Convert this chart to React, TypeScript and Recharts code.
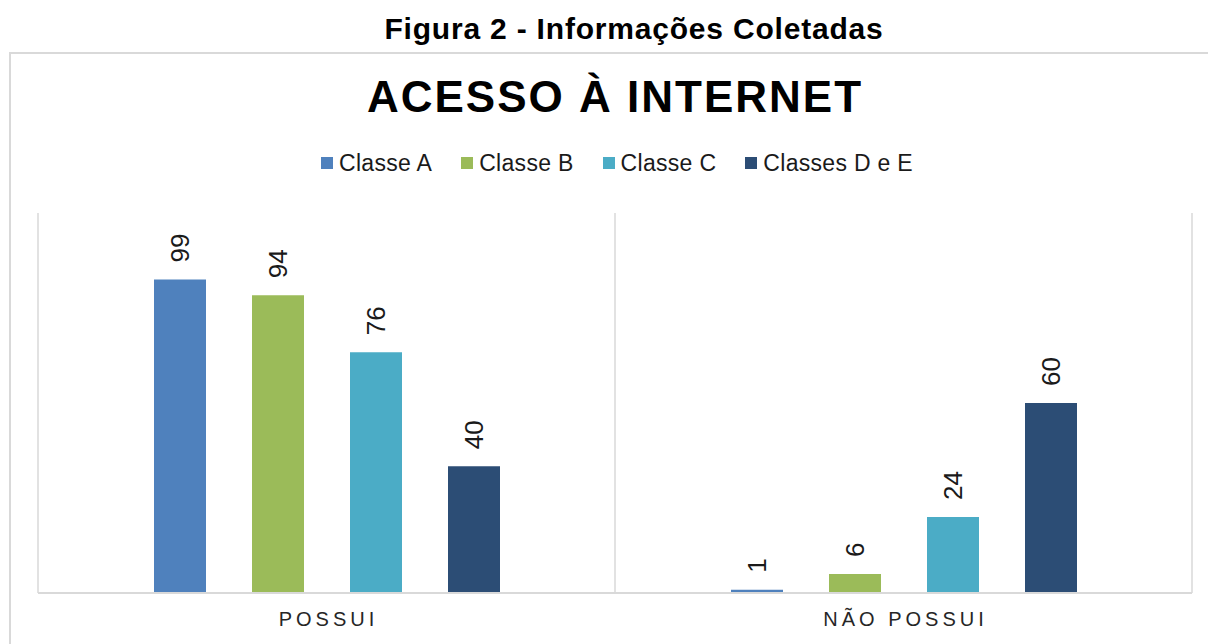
import { BarChart, Bar, XAxis, YAxis, CartesianGrid, LabelList } from 'recharts';

const FONT = '"Liberation Sans", Arial, Helvetica, sans-serif';

// values (percent)
const categories = ['POSSUI', 'NÃO POSSUI'];
const classeA = [99, 1];
const classeB = [94, 6];
const classeC = [76, 24];
const classesDE = [40, 60];

const seriesKeys = ['a', 'b', 'c', 'de'];
const seriesNames = ['Classe A', 'Classe B', 'Classe C', 'Classes D e E'];
const seriesColors = ['#4F81BD', '#9BBB59', '#4BACC6', '#2C4D75'];
const yDomain = [0, 120];

const data = categories.map((name, i) => ({
  name,
  a: classeA[i],
  b: classeB[i],
  c: classeC[i],
  de: classesDE[i],
}));

const RotatedLabel = (props: any) => {
  const { x, y, width, value } = props;
  const cx = x + width / 2;
  const ty = y - 17;
  return (
    <text
      x={cx}
      y={ty}
      transform={`rotate(-90 ${cx} ${ty})`}
      textAnchor="start"
      dominantBaseline="central"
      fontSize={26}
      fontFamily={FONT}
      fill="#1a1a1a"
    >
      {value}
    </text>
  );
};

const CategoryTick = (props: any) => {
  const { x, y, payload } = props;
  return (
    <text
      x={x + 2}
      y={y + 26}
      textAnchor="middle"
      dominantBaseline="central"
      fontSize={20}
      letterSpacing={4}
      fontFamily={FONT}
      fill="#262626"
    >
      {payload.value}
    </text>
  );
};

export default function App() {
  return (
    <div
      style={{
        position: 'absolute',
        left: 0,
        top: 0,
        width: 1208,
        height: 644,
        overflow: 'hidden',
        background: '#fff',
        fontFamily: FONT,
      }}
    >
      {/* figure caption */}
      <div
        style={{
          position: 'absolute',
          left: 0,
          top: 12,
          width: 1268,
          textAlign: 'center',
          fontSize: 30,
          lineHeight: '34px',
          fontWeight: 'bold',
          letterSpacing: 0.8,
          color: '#000',
        }}
      >
        Figura 2 - Informações Coletadas
      </div>

      {/* chart frame */}
      <div
        style={{
          position: 'absolute',
          left: 9,
          top: 52,
          width: 1300,
          height: 700,
          border: '2px solid #d9d9d9',
          boxSizing: 'border-box',
        }}
      />

      {/* chart title */}
      <div
        style={{
          position: 'absolute',
          left: 0,
          top: 72,
          width: 1230,
          textAlign: 'center',
          fontSize: 44,
          lineHeight: '50px',
          fontWeight: 'bold',
          letterSpacing: 2,
          color: '#000',
        }}
      >
        ACESSO À INTERNET
      </div>

      {/* legend */}
      <div
        style={{
          position: 'absolute',
          left: 321,
          top: 150,
          height: 26,
          display: 'flex',
          alignItems: 'center',
        }}
      >
        {seriesNames.map((name, i) => (
          <div key={name} style={{ display: 'flex', alignItems: 'center', marginRight: 29 }}>
            <span style={{ width: 12, height: 12, background: seriesColors[i], marginRight: 6 }} />
            <span style={{ fontSize: 23, lineHeight: '26px', letterSpacing: 0.3, color: '#1a1a1a', whiteSpace: 'nowrap' }}>
              {name}
            </span>
          </div>
        ))}
      </div>

      <div style={{ position: 'absolute', left: 0, top: 0 }}>
        <BarChart
          width={1208}
          height={644}
          data={data}
          margin={{ top: 213, right: 16, bottom: 21, left: 38 }}
          barSize={52}
          barGap={46}
        >
          <CartesianGrid
            horizontal={false}
            stroke="#d9d9d9"
            strokeWidth={1.5}
            verticalCoordinatesGenerator={({ offset }: any) => [
              offset.left,
              offset.left + offset.width / 2,
              offset.left + offset.width,
            ]}
          />
          <XAxis
            dataKey="name"
            height={30}
            axisLine={{ stroke: '#d9d9d9', strokeWidth: 2 }}
            tickLine={false}
            tickSize={0}
            tickMargin={0}
            tick={<CategoryTick />}
            interval={0}
          />
          <YAxis hide domain={yDomain} />
          {seriesKeys.map((key, i) => (
            <Bar key={key} dataKey={key} name={seriesNames[i]} fill={seriesColors[i]} isAnimationActive={false}>
              <LabelList dataKey={key} content={<RotatedLabel />} />
            </Bar>
          ))}
        </BarChart>
      </div>
    </div>
  );
}
